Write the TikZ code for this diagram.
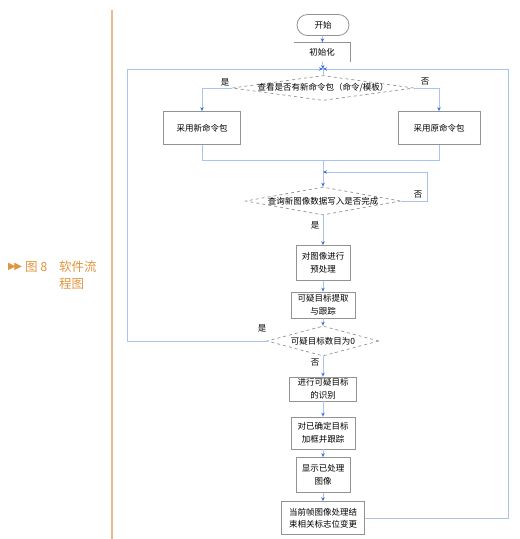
\documentclass[tikz,border=0pt]{standalone}
\usepackage{fontspec}
\setmainfont{Noto Sans CJK SC}
\newfontfamily\symfont{DejaVu Sans}
\usetikzlibrary{%
  arrows.meta,%
  shapes,% diamond, rounded rectangle
  positioning,%
  calc%
}
\definecolor{flowblue}{HTML}{A9C4F0}
\definecolor{tipblue}{HTML}{3F70D8}
\definecolor{caporange}{HTML}{E0953F}
\definecolor{barorange}{HTML}{E9BC8F}

\begin{document}
\begin{tikzpicture}
  [
  x=1pt, y=-1pt,
  >={Stealth[length=4pt,width=3.5pt,color=tipblue]},
  every node/.style={font=\fontsize{8.5}{12.5}\selectfont, inner sep=1pt},
  flow/.style={draw=flowblue, line width=0.9pt},
  box/.style={rectangle, draw=gray!85, line width=0.8pt, align=center},
  endbox/.style={rounded rectangle, draw=gray!85, line width=0.8pt},
  test/.style={diamond, draw=gray!85, dashed, line width=0.7pt, inner sep=0pt},
  yesno/.style={font=\fontsize{8.5}{10}\selectfont},
  captext/.style={anchor=west, inner sep=0pt, text=caporange, font=\fontsize{12.5}{14}\selectfont}
  ]

  \useasboundingbox (0,0) rectangle (520,539);

  % caption at the left
  \draw[barorange, line width=2pt] (112,10) -- (112,539);
  \node[captext, font=\symfont\fontsize{10}{12}\selectfont] (capmark) at (8,267) {▶\kern-1.5pt▶};
  \node[captext] (capfig) at (25,267) {图 8};
  \node[captext] (cap1) at (59,267) {软件流};
  \node[captext] (cap2) at (59,284) {程图};

  % nodes
  \node[endbox, minimum width=54pt, minimum height=21pt] (start) at (323,25) {开始};
  \node[minimum width=56pt, minimum height=19pt] (init) at (322,52) {初始化};
  \draw[gray!85, line width=0.7pt] (init.north west) -| (init.south east);

  \node[test, minimum width=182pt, minimum height=25pt,
    label=center:{查看是否有新命令包（命令/模板）}] (chk1) at (323,88) {};
  \node[box, minimum width=77pt, minimum height=33pt] (newcmd) at (202,128) {采用新命令包};
  \node[box, minimum width=82pt, minimum height=33pt] (oldcmd) at (439,128) {采用原命令包};

  \node[test, minimum width=155pt, minimum height=28pt,
    label=center:{查询新图像数据写入是否完成}] (chk2) at (323,201) {};

  \node[box, minimum width=54pt, minimum height=35pt] (pre) at (323,263) {对图像进行\\预处理};
  \node[box, minimum width=64pt, minimum height=26pt] (ext) at (323,305) {可疑目标提取\\与跟踪};
  \node[test, minimum width=112pt, minimum height=30pt,
    label=center:{可疑目标数目为0}] (chk3) at (323,341) {};
  \node[box, minimum width=67pt, minimum height=24pt] (rec) at (323,389) {进行可疑目标\\的识别};
  \node[box, minimum width=64pt, minimum height=32pt] (trk) at (323,433) {对已确定目标\\加框并跟踪};
  \node[box, minimum width=54pt, minimum height=35pt] (disp) at (323,475) {显示已处理\\图像};
  \node[box, minimum width=83pt, minimum height=33pt] (fin) at (323,518) {当前帧图像处理结\\束相关标志位变更};

  % joints
  \coordinate (join1) at (323,69);
  \coordinate (join2) at (323,160);
  \coordinate (back2) at (323,172);
  \coordinate (lft) at (127,69);
  \coordinate (rgt) at (508,69);

  % connectors
  \draw[flow,->] (start) -- (init);
  \draw[flow,->] (init) -- (join1);
  \draw[flow] (join1) -- (chk1.north);
  \draw[flow,->] (chk1.west) -| (newcmd.north);
  \draw[flow,->] (chk1.east) -| (oldcmd.north);
  \draw[flow] (newcmd.south) |- (join2);
  \draw[flow] (oldcmd.south) |- (join2);
  \draw[flow,->] (join2) -- (chk2.north);
  \draw[flow,->] (chk2.east) -- ++(27,0) |- (back2);
  \draw[flow,->] (chk2.south) -- (pre.north);
  \draw[flow,->] (chk3.south) -- (rec.north);
  \foreach \a/\b in {pre/ext, ext/chk3, rec/trk, trk/disp, disp/fin} {
    \draw[flow,->] (\a) -- (\b);
  }
  \draw[flow,->] (chk3.west) -| (lft) -- (join1);
  \draw[flow,->] (fin.east) -| (rgt) -- (join1);

  % yes / no
  \node[yesno] (y1) at (225,82) {是};
  \node[yesno] (n1) at (425,82) {否};
  \node[yesno] (n2) at (418,195) {否};
  \node[yesno] (y2) at (315,225) {是};
  \node[yesno] (y3) at (262,328) {是};
  \node[yesno] (n3) at (315,363) {否};
\end{tikzpicture}
\end{document}
